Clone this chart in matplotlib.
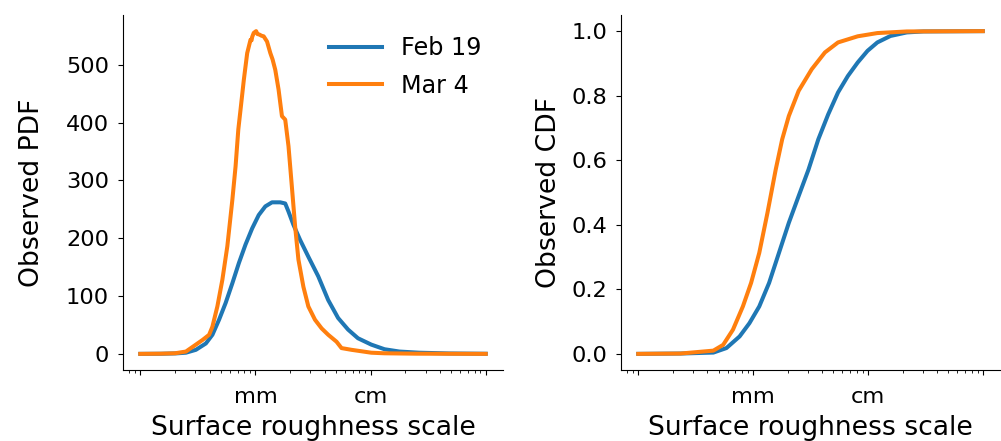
import numpy as np
import matplotlib.pyplot as plt
from matplotlib.ticker import FixedLocator, LogLocator, NullFormatter

# roughness scale in mm, observed PDF (left) and CDF (right)
pdf_feb_x = [0.1, 0.152, 0.204, 0.249, 0.304, 0.371, 0.423, 0.483, 0.551, 0.630,
             0.718, 0.820, 0.937, 1.068, 1.219, 1.393, 1.643, 1.814, 1.937, 2.139,
             2.443, 2.880, 3.513, 4.285, 5.225, 6.374, 7.77, 10.14, 13.21, 17.8,
             26.4, 48.0, 100.0]
pdf_feb_y = [0, 0.2, 0.8, 2, 7, 18, 33, 59, 88, 122,
             157, 189, 217, 240, 255, 262, 262, 260, 246, 223,
             197, 168, 134, 93, 62, 42, 27, 16, 8, 4,
             2, 0.7, 0.2]

pdf_mar_x = [0.1, 0.15, 0.2, 0.249, 0.304, 0.347, 0.396, 0.423, 0.467, 0.516,
             0.570, 0.630, 0.672, 0.710, 0.742, 0.793, 0.848, 0.906, 0.925, 0.937,
             0.967, 1.014, 1.04, 1.083, 1.13, 1.179, 1.261, 1.347, 1.409, 1.487,
             1.588, 1.699, 1.814, 1.937, 2.072, 2.212, 2.362, 2.609, 2.880, 3.290,
             3.758, 4.285, 5.062, 5.590, 6.818, 10.14, 13.21, 25.0, 100.0]
pdf_mar_y = [0, 0.3, 1, 4, 16, 24, 33, 47, 82, 128,
             186, 266, 324, 388, 422, 474, 520, 543, 542, 548,
             555, 558, 553, 552, 550, 549, 540, 520, 509, 491,
             457, 411, 405, 359, 289, 220, 163, 116, 82, 59,
             44, 33, 21, 10, 7, 2, 1, 0.3, 0]

cdf_feb_x = [0.1, 0.233, 0.451, 0.586, 0.763, 0.929, 1.132, 1.379, 1.680, 2.047,
             2.493, 3.037, 3.70, 4.507, 5.49, 6.69, 8.15, 9.92, 12.08, 15.7,
             21.8, 30.4, 100.0]
cdf_feb_y = [0, 0.001, 0.004, 0.018, 0.054, 0.095, 0.147, 0.220, 0.313, 0.406,
             0.489, 0.571, 0.665, 0.742, 0.810, 0.861, 0.903, 0.939, 0.965, 0.985,
             0.996, 0.999, 1.0]

cdf_mar_x = [0.1, 0.233, 0.451, 0.549, 0.668, 0.815, 0.961, 1.132, 1.334, 1.574,
             1.793, 2.047, 2.493, 3.241, 4.222, 5.49, 8.15, 12.08, 21.8, 100.0]
cdf_mar_y = [0, 0.001, 0.010, 0.028, 0.075, 0.147, 0.220, 0.313, 0.437, 0.571,
             0.665, 0.737, 0.815, 0.882, 0.934, 0.965, 0.984, 0.994, 0.999, 1.0]

labels = ['Feb 19', 'Mar 4']
tick_pos = [0.1, 1, 10, 100]
tick_lab = ['', 'mm', 'cm', '']

plt.rcParams['font.family'] = 'DejaVu Sans'
fig = plt.figure(figsize=(10.01, 4.41), dpi=100)
ax1 = fig.add_axes([0.1229, 0.161, 0.3796, 0.805])
ax2 = fig.add_axes([0.6204, 0.161, 0.3786, 0.805])

ax1.plot(pdf_feb_x, pdf_feb_y, color='#1f77b4', lw=2.9, label=labels[0])
ax1.plot(pdf_mar_x, pdf_mar_y, color='#ff7f0e', lw=2.9, label=labels[1])
ax2.plot(cdf_feb_x, cdf_feb_y, color='#1f77b4', lw=2.9)
ax2.plot(cdf_mar_x, cdf_mar_y, color='#ff7f0e', lw=2.9)

for ax in (ax1, ax2):
    ax.set_xscale('log')
    ax.xaxis.set_major_locator(FixedLocator(tick_pos))
    ax.set_xticklabels(tick_lab)
    ax.xaxis.set_minor_locator(LogLocator(base=10, subs=np.arange(2, 10)))
    ax.xaxis.set_minor_formatter(NullFormatter())
    ax.spines['top'].set_visible(False)
    ax.spines['right'].set_visible(False)
    ax.tick_params(labelsize=16.2)
    ax.tick_params(which='major', pad=6.5)
    ax.tick_params(axis='x', which='major', pad=8.5)
    ax.set_xlabel('Surface roughness scale', fontsize=19.2, labelpad=6)

ax1.set_ylabel('Observed PDF', fontsize=19.2, labelpad=15)
ax2.set_ylabel('Observed CDF', fontsize=19.2, labelpad=7)
ax1.set_yticks([0, 100, 200, 300, 400, 500])
ax2.set_yticks([0.0, 0.2, 0.4, 0.6, 0.8, 1.0])

ax1.legend(loc='upper right', frameon=False, fontsize=17.2,
           handlelength=2.2, labelspacing=0.55)

fig.savefig('out.png', dpi=100)
